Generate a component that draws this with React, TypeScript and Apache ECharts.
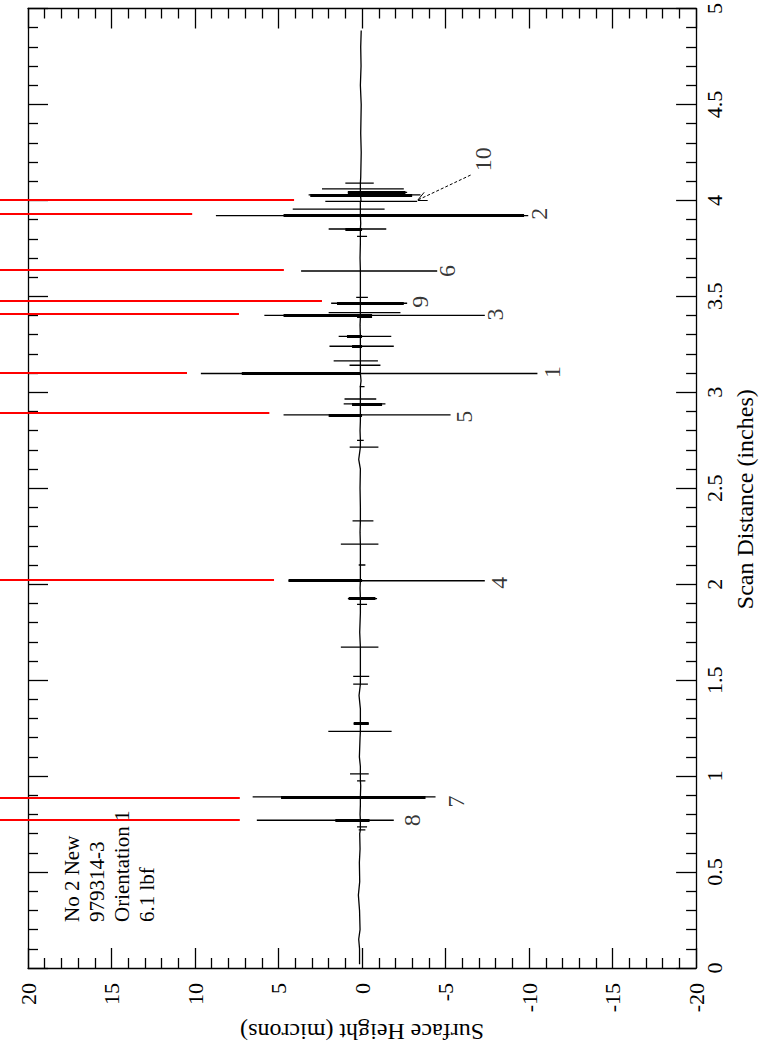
import React, { useEffect, useRef } from "react";
import * as echarts from "echarts";

const FONT = "'Liberation Serif', 'Times New Roman', serif";

// Scan distance axis (inches) and surface height axis (microns)
const distanceRange = [0, 5];
const heightRange = [-20, 20];

// Baseline of the profile: [distance, height]
const baseline: [number, number][] = [
  [0.02, 0.15], [0.1, 0.15], [0.15, 0.2], [0.2, 0.12], [0.3, 0.15], [0.38, 0.22],
  [0.45, 0.14], [0.55, 0.16], [0.62, 0.12], [0.7, 0.14], [0.75, 0.1], [0.8, 0.12],
  [0.85, 0.1], [0.95, 0.08], [1.05, 0.1], [1.1, 0.16], [1.2, 0.12], [1.35, 0.1],
  [1.42, 0.18], [1.6, 0.1], [1.75, 0.14], [1.85, 0.1], [1.98, 0.12], [2.05, 0.1],
  [2.15, 0.1], [2.27, 0.12], [2.4, 0.1], [2.5, 0.12], [2.6, 0.1], [2.65, 0.2],
  [2.8, 0.12], [2.85, 0.1], [3.0, 0.1], [3.06, 0.06], [3.2, 0.1], [3.35, 0.12],
  [3.55, 0.1], [3.7, 0.12], [3.78, 0.1], [3.88, 0.08], [4.0, 0.06], [4.12, 0.08],
  [4.25, 0.05], [4.35, 0.08], [4.5, 0.05], [4.6, 0.1], [4.7, 0.06], [4.8, 0.08],
  [4.885, 0.05],
];

// Spikes of the profile: [distance, height on left, height on right]
const spikes: [number, number, number][] = [
  [4.09, 1.0, -0.7], [4.06, 2.4, -2.5], [4.042, 0.85, -2.7], [4.029, 3.2, -3.5],
  [3.995, 2.2, -3.3], [3.955, 4.15, -1.35], [3.921, 8.75, -9.95], [3.851, 2.0, -1.45],
  [3.813, 0.3, -0.3], [3.632, 3.65, -4.5], [3.495, 0.35, -0.35], [3.464, 1.85, -2.7],
  [3.415, 2.0, -2.3], [3.401, 5.85, -7.35], [3.39, 0.3, -0.6], [3.291, 1.4, -1.75],
  [3.24, 1.95, -1.9], [3.164, 1.7, -0.95], [3.141, 0.75, -1.1], [3.098, 9.65, -10.5],
  [3.03, 0.15, -0.15], [2.965, 1.05, -0.85], [2.94, 1.1, -1.4], [2.882, 4.7, -5.3],
  [2.75, 0.3, -0.1], [2.714, 0.74, -0.98], [2.33, 0.57, -0.68], [2.209, 1.27, -0.98],
  [2.1, 0.2, -0.2], [2.018, 4.4, -7.35], [1.925, 0.85, -0.9], [1.895, 0.3, -0.3],
  [1.672, 1.27, -0.98], [1.52, 0.53, -0.43], [1.479, 0.53, -0.35], [1.273, 0.5, -0.4],
  [1.233, 2.02, -1.77], [1.012, 0.72, -0.4], [0.975, 0.3, -0.2], [0.892, 6.55, -4.4],
  [0.77, 6.3, -1.9], [0.735, 0.3, -0.3], [0.72, 0.2, -0.2],
];

// Heavier portions of spikes: [distance, from height, to height]
const thickSpikes: [number, number, number][] = [
  [4.042, 0.85, -2.6], [4.029, 3.1, -3.0], [3.921, 4.7, -9.7], [3.851, 1.0, 0],
  [3.464, 1.5, -2.5], [3.401, 4.7, -0.6], [3.291, 0.9, 0], [3.24, 0.6, 0],
  [3.098, 7.2, 0.1], [2.94, 0.6, -1.2], [2.882, 2.0, 0], [2.018, 4.4, 0],
  [1.925, 0.8, -0.8], [1.273, 0.5, -0.4], [0.892, 4.85, -3.8], [0.77, 1.6, -0.45],
];

// Red marker lines: [distance, end height]
const redMarks: [number, number][] = [
  [4.003, 4.07], [3.93, 10.17], [3.64, 4.68], [3.475, 2.4], [3.41, 7.37],
  [3.103, 10.48], [2.891, 5.55], [2.024, 5.27], [0.889, 7.32], [0.772, 7.32],
];
const redStart = 22;

// Peak labels: [label, height, distance]
const peakLabels: [string, number, number][] = [
  ["10", -7.25, 4.215], ["2", -10.6, 3.93], ["6", -5.06, 3.632], ["9", -3.46, 3.472],
  ["3", -7.96, 3.405], ["1", -11.4, 3.106], ["5", -6.12, 2.872], ["4", -8.2, 2.008],
  ["7", -5.65, 0.868], ["8", -2.99, 0.77],
];

// Arrow for label 10: [height, distance]
const arrowShaft: [number, number][] = [[-6.5, 4.132], [-3.34, 4.002]];
const arrowBarbs: [number, number][][] = [
  [[-3.34, 4.002], [-3.93, 4.002]],
  [[-3.34, 4.002], [-3.72, 4.042]],
];

const noteLines = ["No 2 New", "979314-3", "Orientation 1", "6.1 lbf"];

const BASE = 0.1;

export default function App() {
  const ref = useRef<HTMLDivElement>(null);
  useEffect(() => {
    document.body.style.margin = "0";
    if (!ref.current) return;
    const chart = echarts.init(ref.current, undefined, { renderer: "svg" });

    const events: { d: number; pts: [number, number][] }[] = [
      ...baseline.map(([d, h]) => ({ d, pts: [[h, d]] as [number, number][] })),
      ...spikes.map(([d, l, r]) => ({
        d,
        pts: [[BASE, d], [l, d], [r, d], [BASE, d]] as [number, number][],
      })),
    ].sort((a, b) => a.d - b.d);
    const trace = events.flatMap((e) => e.pts);

    const line = { color: "#000", width: 1.3 };
    const axisCommon: any = {
      type: "value",
      axisLine: { show: true, onZero: false, lineStyle: line },
      axisTick: { show: true, inside: true, length: 20, lineStyle: line },
      minorTick: { show: true, splitNumber: 5, length: 10, lineStyle: line },
      splitLine: { show: false },
      minorSplitLine: { show: false },
    };
    const labelStyle = { fontFamily: FONT, color: "#000", fontSize: 22 };

    chart.setOption({
      animation: false,
      backgroundColor: "#fff",
      grid: { left: 28, right: 60, top: 6, bottom: 90, containLabel: false },
      xAxis: [
        {
          ...axisCommon,
          min: heightRange[0],
          max: heightRange[1],
          interval: 5,
          inverse: true,
          position: "bottom",
          axisLabel: { ...labelStyle, rotate: 90, margin: 15 },
          name: "Surface Height (microns)",
          nameLocation: "middle",
          nameGap: 50,
          nameRotate: 180,
          nameTextStyle: { fontFamily: FONT, color: "#000", fontSize: 24 },
        },
        {
          ...axisCommon,
          min: heightRange[0],
          max: heightRange[1],
          interval: 5,
          inverse: true,
          position: "top",
          axisLabel: { show: false },
        },
      ],
      yAxis: [
        {
          ...axisCommon,
          min: distanceRange[0],
          max: distanceRange[1],
          interval: 0.5,
          position: "right",
          axisLabel: { ...labelStyle, rotate: 90, margin: 7 },
          name: "Scan Distance (inches)",
          nameLocation: "middle",
          nameGap: 30,
          nameRotate: 90,
          nameTextStyle: {
            fontFamily: FONT,
            color: "#000",
            fontSize: 24,
            padding: [0, 22, 0, 0],
          },
        },
        {
          ...axisCommon,
          min: distanceRange[0],
          max: distanceRange[1],
          interval: 0.5,
          position: "left",
          axisLabel: { show: false },
        },
      ],
      series: [
        {
          type: "line",
          name: "profile",
          data: trace,
          showSymbol: false,
          symbol: "none",
          lineStyle: { color: "#000", width: 1.3 },
          silent: true,
        },
        {
          type: "lines",
          coordinateSystem: "cartesian2d",
          data: thickSpikes.map(([d, a, b]) => ({ coords: [[a, d], [b, d]] })),
          lineStyle: { color: "#000", width: 3, opacity: 1, curveness: 0 },
          silent: true,
        },
        {
          type: "lines",
          coordinateSystem: "cartesian2d",
          clip: false,
          data: redMarks.map(([d, e]) => ({ coords: [[redStart, d], [e, d]] })),
          lineStyle: { color: "#ff0000", width: 2, opacity: 1, curveness: 0 },
          silent: true,
        },
        {
          type: "lines",
          coordinateSystem: "cartesian2d",
          data: [{ coords: arrowShaft }],
          lineStyle: { color: "#000", width: 1, opacity: 1, type: [3, 2] },
          silent: true,
        },
        {
          type: "lines",
          coordinateSystem: "cartesian2d",
          data: arrowBarbs.map((c) => ({ coords: c })),
          lineStyle: { color: "#000", width: 1, opacity: 1 },
          silent: true,
        },
        {
          type: "scatter",
          data: peakLabels.map(([n, h, d]) => ({ name: n, value: [h, d] })),
          symbolSize: 1,
          itemStyle: { color: "rgba(0,0,0,0)" },
          label: {
            show: true,
            formatter: "{b}",
            position: "inside",
            rotate: 90,
            fontFamily: FONT,
            fontSize: 24,
            color: "#000",
          },
          silent: true,
        },
      ],
      graphic: [
        {
          type: "text",
          x: 59,
          y: 922,
          rotation: Math.PI / 2,
          style: {
            text: noteLines.join("\n"),
            fontFamily: FONT,
            fontSize: 21,
            lineHeight: 25,
            fill: "#000",
            align: "left",
            verticalAlign: "top",
          },
        },
      ],
    });
    return () => chart.dispose();
  }, []);
  return <div ref={ref} style={{ width: 765, height: 1058 }} />;
}
